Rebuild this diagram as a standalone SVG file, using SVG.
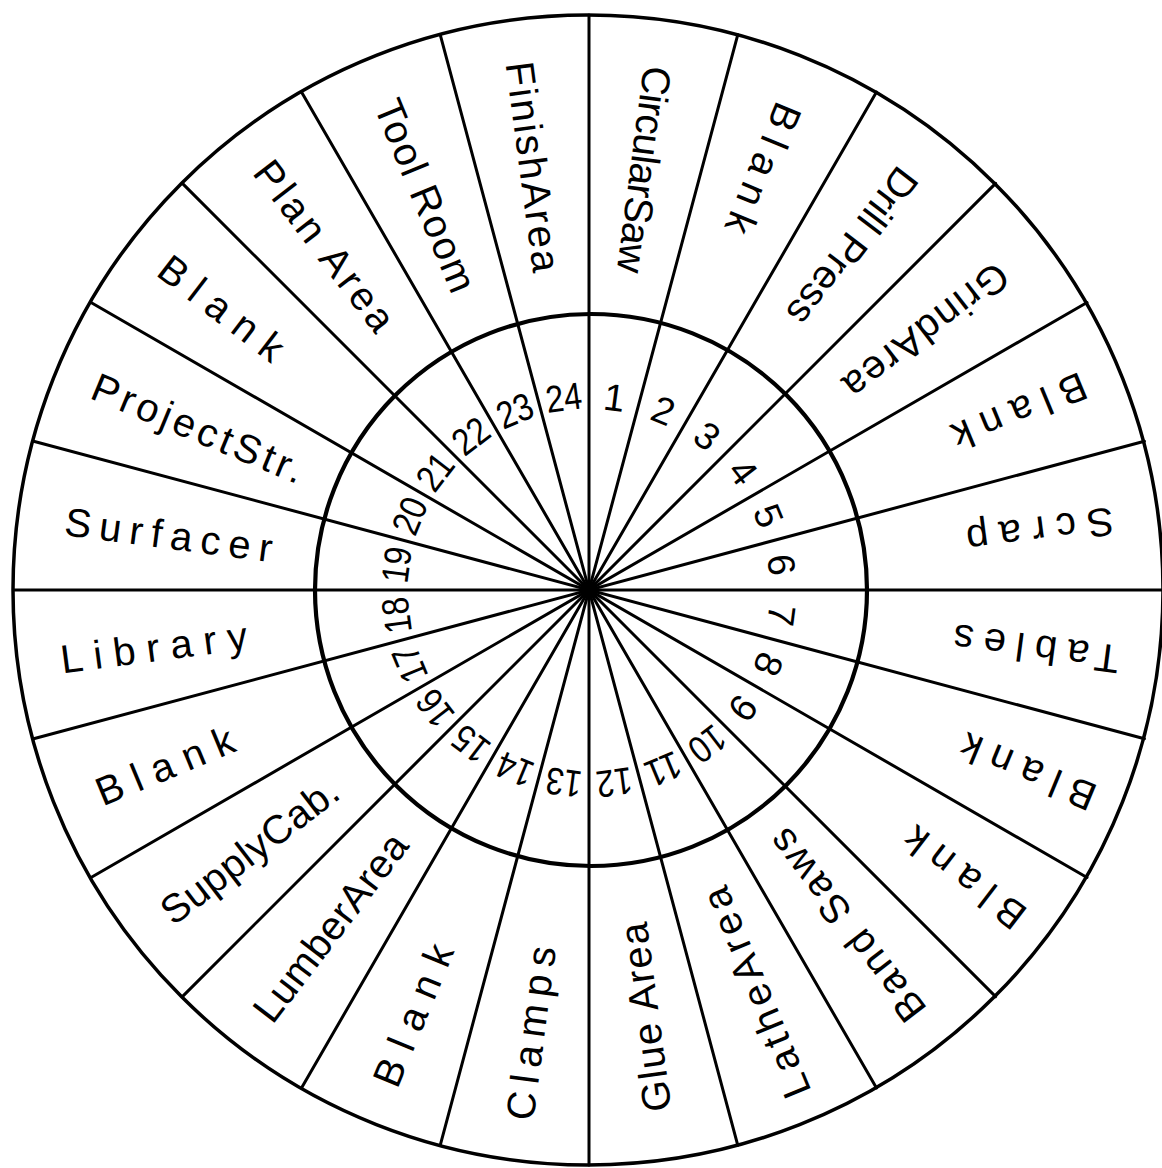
<svg xmlns="http://www.w3.org/2000/svg" width="1162" height="1168" viewBox="0 0 1162 1168">
<style>
.ring{fill:none;stroke:#000}
.spoke{stroke:#000;stroke-width:3;stroke-linecap:round}
.lbl{font-family:"Liberation Sans",Arial,sans-serif;font-size:40px;fill:#000;text-anchor:middle;dominant-baseline:central}
.num{font-family:"Liberation Sans",Arial,sans-serif;font-size:38px;fill:#000;text-anchor:middle;dominant-baseline:central}
</style>
<rect width="1162" height="1168" fill="#fff"/>
<g id="connectors">
<line class="spoke" x1="589" y1="15" x2="589" y2="1165"/>
<line class="spoke" x1="737.8" y1="34.6" x2="440.2" y2="1145.4"/>
<line class="spoke" x1="876.5" y1="92" x2="301.5" y2="1088"/>
<line class="spoke" x1="995.6" y1="183.4" x2="182.4" y2="996.6"/>
<line class="spoke" x1="1087" y1="302.5" x2="91" y2="877.5"/>
<line class="spoke" x1="1144.4" y1="441.2" x2="33.6" y2="738.8"/>
<line class="spoke" x1="1164" y1="590" x2="14" y2="590"/>
<line class="spoke" x1="1144.4" y1="738.8" x2="33.6" y2="441.2"/>
<line class="spoke" x1="1087" y1="877.5" x2="91" y2="302.5"/>
<line class="spoke" x1="995.6" y1="996.6" x2="182.4" y2="183.4"/>
<line class="spoke" x1="876.5" y1="1088" x2="301.5" y2="92"/>
<line class="spoke" x1="737.8" y1="1145.4" x2="440.2" y2="34.6"/>
<circle cx="589" cy="590" r="8" fill="#000"/>
</g>
<g id="rings">
<circle class="ring" cx="588" cy="590" r="575" stroke-width="3.5"/>
<circle class="ring" cx="591" cy="590" r="276" stroke-width="4.2"/>
</g>
<g id="sector-1"><text class="lbl" transform="translate(644.3,169.6) rotate(97.5)" textLength="208">CircularSaw</text><text class="num" transform="translate(614.3,397.7) rotate(7.5)">1</text></g>
<g id="sector-2"><text class="lbl" transform="translate(763.5,168.7) rotate(112.5)" textLength="138">Blank</text><text class="num" transform="translate(663.2,410.8) rotate(22.5)">2</text></g>
<g id="sector-3"><text class="lbl" transform="translate(852.6,246.5) rotate(127.5)" textLength="187">Drill Press</text><text class="num" transform="translate(707.1,436.1) rotate(37.5)">3</text></g>
<g id="sector-4"><text class="lbl" transform="translate(926.2,331.3) rotate(142.5)" textLength="197">GrindArea</text><text class="num" transform="translate(742.9,471.9) rotate(52.5)">4</text></g>
<g id="sector-5"><text class="lbl" transform="translate(1019.5,411.7) rotate(157.5)" textLength="142">Blank</text><text class="num" transform="translate(768.2,515.8) rotate(67.5)">5</text></g>
<g id="sector-6"><text class="lbl" transform="translate(1040.1,530.6) rotate(172.5)" textLength="148">Scrap</text><text class="num" transform="translate(781.3,564.7) rotate(82.5)">6</text></g>
<g id="sector-7"><text class="lbl" transform="translate(1036.1,648.9) rotate(187.5)" textLength="167">Tables</text><text class="num" transform="translate(781.3,615.3) rotate(97.5)">7</text></g>
<g id="sector-8"><text class="lbl" transform="translate(1027.9,771.8) rotate(202.5)" textLength="143">Blank</text><text class="num" transform="translate(768.2,664.2) rotate(112.5)">8</text></g>
<g id="sector-9"><text class="lbl" transform="translate(964.3,878) rotate(217.5)" textLength="142">Blank</text><text class="num" transform="translate(742.9,708.1) rotate(127.5)">9</text></g>
<g id="sector-10"><text class="lbl" transform="translate(846.5,925.6) rotate(232.5)" textLength="231">Band Saws</text><text class="num" transform="translate(707.1,743.9) rotate(142.5)" textLength="36" lengthAdjust="spacingAndGlyphs">10</text></g>
<g id="sector-11"><text class="lbl" transform="translate(755.9,992.8) rotate(247.5)" textLength="224">LatheArea</text><text class="num" transform="translate(663.2,769.2) rotate(157.5)" textLength="36" lengthAdjust="spacingAndGlyphs">11</text></g>
<g id="sector-12"><text class="lbl" transform="translate(645.2,1017.3) rotate(262.5)" textLength="190">Glue Area</text><text class="num" transform="translate(614.3,782.3) rotate(172.5)" textLength="36" lengthAdjust="spacingAndGlyphs">12</text></g>
<g id="sector-13"><text class="lbl" transform="translate(530.7,1033.2) rotate(277.5)" textLength="175">Clamps</text><text class="num" transform="translate(563.7,782.3) rotate(187.5)" textLength="36" lengthAdjust="spacingAndGlyphs">13</text></g>
<g id="sector-14"><text class="lbl" transform="translate(413,1015) rotate(292.5)" textLength="150">Blank</text><text class="num" transform="translate(514.8,769.2) rotate(202.5)" textLength="36" lengthAdjust="spacingAndGlyphs">14</text></g>
<g id="sector-15"><text class="lbl" transform="translate(330.3,927.2) rotate(307.5)" textLength="226">LumberArea</text><text class="num" transform="translate(470.9,743.9) rotate(217.5)" textLength="36" lengthAdjust="spacingAndGlyphs">15</text></g>
<g id="sector-16"><text class="lbl" transform="translate(249.4,850.6) rotate(322.5)" textLength="213">SupplyCab.</text><text class="num" transform="translate(435.1,708.1) rotate(232.5)" textLength="36" lengthAdjust="spacingAndGlyphs">16</text></g>
<g id="sector-17"><text class="lbl" transform="translate(164.9,765.7) rotate(337.5)" textLength="146">Blank</text><text class="num" transform="translate(409.8,664.2) rotate(247.5)" textLength="36" lengthAdjust="spacingAndGlyphs">17</text></g>
<g id="sector-18"><text class="lbl" transform="translate(153.8,647.3) rotate(352.5)" textLength="188">Library</text><text class="num" transform="translate(396.7,615.3) rotate(262.5)" textLength="36" lengthAdjust="spacingAndGlyphs">18</text></g>
<g id="sector-19"><text class="lbl" transform="translate(168.6,534.7) rotate(7.5)" textLength="209">Surfacer</text><text class="num" transform="translate(396.7,564.7) rotate(277.5)" textLength="36" lengthAdjust="spacingAndGlyphs">19</text></g>
<g id="sector-20"><text class="lbl" transform="translate(198.2,428.1) rotate(22.5)" textLength="226">ProjectStr.</text><text class="num" transform="translate(409.8,515.8) rotate(292.5)" textLength="36" lengthAdjust="spacingAndGlyphs">20</text></g>
<g id="sector-21"><text class="lbl" transform="translate(221.7,308.1) rotate(37.5)" textLength="147">Blank</text><text class="num" transform="translate(435.1,471.9) rotate(307.5)" textLength="36" lengthAdjust="spacingAndGlyphs">21</text></g>
<g id="sector-22"><text class="lbl" transform="translate(324.8,245.7) rotate(52.5)" textLength="204">Plan Area</text><text class="num" transform="translate(470.9,436.1) rotate(322.5)" textLength="36" lengthAdjust="spacingAndGlyphs">22</text></g>
<g id="sector-23"><text class="lbl" transform="translate(425.6,195.5) rotate(67.5)" textLength="205">Tool Room</text><text class="num" transform="translate(514.8,410.8) rotate(337.5)" textLength="36" lengthAdjust="spacingAndGlyphs">23</text></g>
<g id="sector-24"><text class="lbl" transform="translate(533.3,166.7) rotate(82.5)" textLength="212">FinishArea</text><text class="num" transform="translate(563.7,397.7) rotate(352.5)" textLength="36" lengthAdjust="spacingAndGlyphs">24</text></g>
</svg>
